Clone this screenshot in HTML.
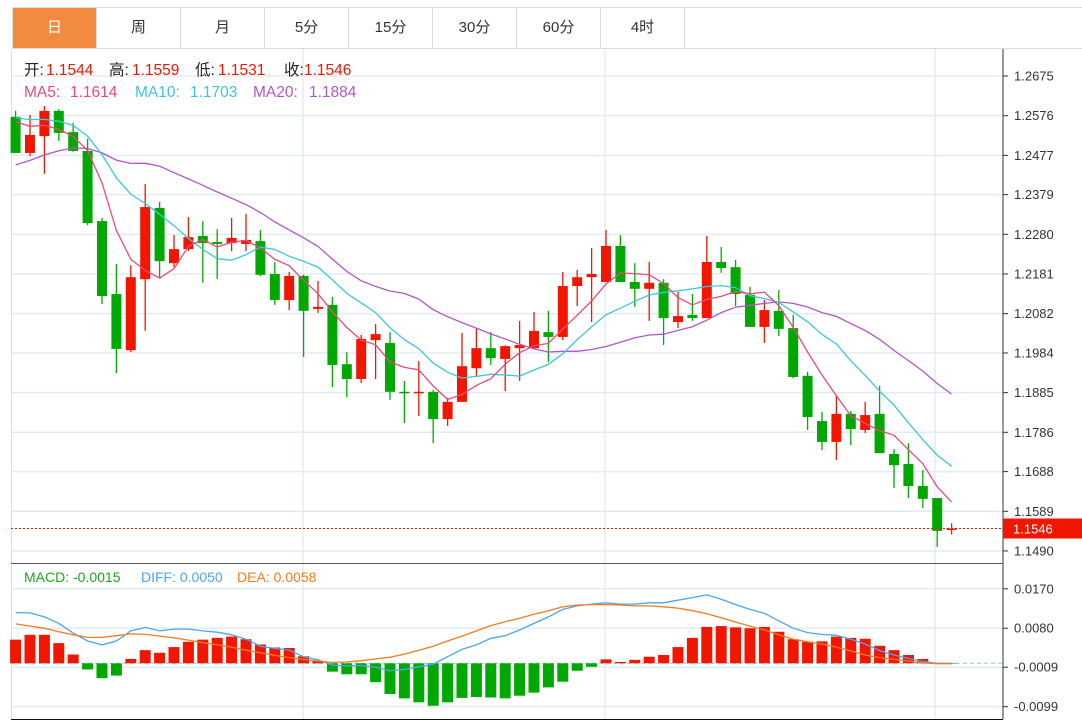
<!DOCTYPE html>
<html><head><meta charset="utf-8">
<style>
html,body{margin:0;padding:0;background:#fff;width:1082px;height:726px;overflow:hidden;font-family:"Liberation Sans","Noto Sans CJK SC",sans-serif}
.tabs{position:absolute;left:12px;top:7px;height:42px;width:1070px;border:1px solid #dcdcdc;border-right:none;display:flex;box-sizing:border-box}
.tab{width:84px;height:40px;line-height:40px;text-align:center;font-size:15px;color:#333;border-right:1px solid #dcdcdc;box-sizing:border-box}
.tab.on{background:#F28B40;color:#fff}
svg{position:absolute;left:0;top:0}
</style></head><body>
<div class="tabs">
<div class="tab on">日</div>
<div class="tab">周</div>
<div class="tab">月</div>
<div class="tab">5分</div>
<div class="tab">15分</div>
<div class="tab">30分</div>
<div class="tab">60分</div>
<div class="tab">4时</div>
</div>
<svg id="chart" width="1082" height="726"></svg>
<script>
const prevCloses=[1.2303,1.2316,1.2328,1.2341,1.2336,1.2346,1.2353,1.2341,1.2341,1.2353,1.2570,1.2585,1.2578,1.2590,1.2578,1.2585,1.2575,1.2583,1.2578];
const opens=[1.2573,1.2483,1.2525,1.2588,1.2535,1.2488,1.2313,1.2131,1.1991,1.2168,1.2346,1.2208,1.2243,1.2276,1.2261,1.2258,1.2256,1.2263,1.2181,1.2116,1.2176,1.2094,1.2104,1.1956,1.1919,1.2016,1.2009,1.1887,1.1884,1.1887,1.1819,1.1862,1.1946,1.1996,1.1969,1.1996,1.1996,1.2036,1.2024,1.2151,1.2173,1.2161,1.2251,1.2161,1.2144,1.2159,1.2061,1.2079,1.2071,1.2211,1.2198,1.2129,1.2049,1.2089,1.2046,1.1927,1.1814,1.1762,1.1832,1.1792,1.1832,1.1732,1.1707,1.1652,1.1622,1.1544];
const closes=[1.2483,1.2528,1.2588,1.2533,1.2488,1.2308,1.2126,1.1994,1.2173,1.2348,1.2213,1.2243,1.2273,1.2258,1.2256,1.2271,1.2266,1.2179,1.2116,1.2176,1.2089,1.2099,1.1954,1.1919,1.2019,1.2031,1.1887,1.1884,1.1887,1.1819,1.1862,1.1951,1.1996,1.1971,1.2001,1.2004,1.2039,1.2024,1.2151,1.2173,1.2181,1.2251,1.2161,1.2144,1.2159,1.2071,1.2076,1.2071,1.2211,1.2196,1.2131,1.2049,1.2091,1.2044,1.1924,1.1824,1.1762,1.1832,1.1794,1.1829,1.1734,1.1704,1.1652,1.1620,1.1540,1.1546];
const highs=[1.2588,1.2578,1.2600,1.2592,1.2558,1.2518,1.2321,1.2206,1.2203,1.2406,1.2361,1.2278,1.2323,1.2313,1.2293,1.2321,1.2331,1.2291,1.2211,1.2186,1.2179,1.2164,1.2124,1.1986,1.2029,1.2056,1.2036,1.1914,1.1964,1.1892,1.1872,1.2034,1.2046,1.2036,1.2003,1.2064,1.2086,1.2089,1.2186,1.2191,1.2246,1.2291,1.2278,1.2208,1.2211,1.2168,1.2136,1.2131,1.2276,1.2248,1.2216,1.2149,1.2116,1.2141,1.2079,1.1937,1.1837,1.1877,1.1839,1.1862,1.1902,1.1744,1.1759,1.1692,1.1622,1.1559];
const lows=[1.2483,1.2475,1.2431,1.2513,1.2486,1.2303,1.2106,1.1934,1.1986,1.2039,1.2173,1.2198,1.2238,1.2159,1.2168,1.2238,1.2238,1.2176,1.2104,1.2091,1.1974,1.2084,1.1899,1.1874,1.1909,1.1919,1.1867,1.1809,1.1827,1.1759,1.1802,1.1862,1.1927,1.1954,1.1889,1.1914,1.1994,1.1961,1.2016,1.2101,1.2061,1.2161,1.2161,1.2099,1.2064,1.2004,1.2046,1.2064,1.2071,1.2184,1.2101,1.2049,1.2009,1.2026,1.1921,1.1792,1.1742,1.1717,1.1754,1.1784,1.1734,1.1647,1.1622,1.1597,1.1500,1.1531];
const macdBars=[0.0054,0.0065,0.0065,0.0046,0.0020,-0.0014,-0.0034,-0.0028,0.0010,0.0030,0.0024,0.0037,0.0049,0.0054,0.0058,0.0061,0.0055,0.0043,0.0036,0.0035,0.0016,0.0006,-0.0019,-0.0025,-0.0025,-0.0043,-0.0070,-0.0080,-0.0089,-0.0097,-0.0089,-0.0079,-0.0077,-0.0078,-0.0080,-0.0074,-0.0067,-0.0055,-0.0042,-0.0017,-0.0008,0.0009,0.0003,0.0008,0.0015,0.0019,0.0037,0.0058,0.0083,0.0085,0.0082,0.0080,0.0083,0.0072,0.0055,0.0049,0.0050,0.0061,0.0058,0.0056,0.0040,0.0030,0.0019,0.0010,-0.0001,-0.0001];
const diffLine=[0.0116,0.0115,0.0106,0.0091,0.0069,0.0051,0.0042,0.0051,0.0074,0.0082,0.0074,0.0078,0.0078,0.0074,0.0071,0.0065,0.0055,0.0039,0.0034,0.0030,0.0015,0.0008,-0.0004,-0.0006,-0.0005,-0.0009,-0.0017,-0.0014,-0.0008,-0.0002,0.0015,0.0032,0.0042,0.0057,0.0063,0.0076,0.0091,0.0106,0.0123,0.0131,0.0135,0.0138,0.0135,0.0135,0.0138,0.0138,0.0144,0.0150,0.0156,0.0146,0.0134,0.0123,0.0114,0.0097,0.0080,0.0070,0.0066,0.0064,0.0055,0.0044,0.0029,0.0019,0.0011,0.0004,0.0000,0.0000];
const deaLine=[0.0090,0.0085,0.0080,0.0072,0.0065,0.0059,0.0059,0.0063,0.0067,0.0066,0.0062,0.0058,0.0053,0.0047,0.0042,0.0037,0.0030,0.0024,0.0018,0.0013,0.0009,0.0005,0.0002,0.0003,0.0006,0.0010,0.0014,0.0021,0.0030,0.0039,0.0051,0.0062,0.0074,0.0086,0.0095,0.0103,0.0112,0.0120,0.0129,0.0133,0.0134,0.0134,0.0133,0.0131,0.0131,0.0129,0.0126,0.0120,0.0113,0.0104,0.0094,0.0085,0.0076,0.0065,0.0055,0.0049,0.0044,0.0037,0.0028,0.0019,0.0013,0.0009,0.0005,0.0001,-0.0001,-0.0001];
const priceTicks=["1.2675","1.2576","1.2477","1.2379","1.2280","1.2181","1.2082","1.1984","1.1885","1.1786","1.1688","1.1589","1.1490"];
const macdTicks=["0.0170","0.0080","-0.0009","-0.0099"];
const lastPrice=1.1546;

const NS="http://www.w3.org/2000/svg";
const svg=document.getElementById('chart');
function el(tag,attrs,parent){const e=document.createElementNS(NS,tag);for(const k in attrs)e.setAttribute(k,attrs[k]);(parent||svg).appendChild(e);return e;}
const X0=15.6,DX=14.4;
function xAt(i){return X0+i*DX;}
function yP(p){return 76+(1.2675-p)*4008;}
function yM(v){return 663.3-v*4382;}
const RIGHT=1003;
priceTicks.forEach(t=>{const y=yP(parseFloat(t));
 const g=el('line',{x1:11,x2:RIGHT,y1:y,y2:y,stroke:'#e3ebf2','stroke-width':1.5});
 
 
 el('line',{x1:RIGHT,x2:RIGHT+5,y1:y,y2:y,stroke:'#333'});
 const tx=el('text',{x:1014,y:y+4.5,'font-size':13,fill:'#333'});tx.textContent=t;
 
 
});
macdTicks.forEach(t=>{const y=yM(parseFloat(t));
 const g=el('line',{x1:11,x2:RIGHT,y1:y,y2:y,stroke:'#e3ebf2','stroke-width':1.5});
 
 
 el('line',{x1:RIGHT,x2:RIGHT+5,y1:y,y2:y,stroke:'#333'});
 const tx=el('text',{x:1014,y:y+4.5,'font-size':13,fill:'#333'});tx.textContent=t;
 
 
});
[303,605,935].forEach(x=>{el('line',{x1:x,x2:x,y1:49,y2:719,stroke:'#e3ebf2','stroke-width':1.5});});
el('line',{x1:11.5,x2:11.5,y1:49,y2:719,stroke:'#d8dde2'});
el('line',{x1:RIGHT,x2:RIGHT,y1:49,y2:719,stroke:'#333'});
el('line',{x1:11,x2:RIGHT,y1:563.5,y2:563.5,stroke:'#555'});
el('line',{x1:11,x2:RIGHT,y1:719.5,y2:719.5,stroke:'#111'});
el('line',{x1:11,x2:RIGHT,y1:yM(0),y2:yM(0),stroke:'#9cc7e0','stroke-dasharray':'4,3'});
for(let i=0;i<opens.length;i++){
 const up=closes[i]>=opens[i];const c=up?'#f11600':'#02a802';const x=xAt(i);
 const w=el('line',{x1:x,x2:x,y1:yP(highs[i]),y2:yP(lows[i]),stroke:c,'stroke-width':1.3});
 
 
 const t=yP(Math.max(opens[i],closes[i])),b=yP(Math.min(opens[i],closes[i]));
 const r=el('rect',{x:x-5,y:t,width:10,height:Math.max(1.5,b-t),fill:c});
 
 
}
const all=prevCloses.concat(closes);
function ma(n){const out=[];for(let i=0;i<closes.length;i++){let s=0;const j=prevCloses.length+i;for(let k=j-n+1;k<=j;k++)s+=all[k];out.push(s/n);}return out;}
function poly(vals,fy,color,name){const pts=vals.map((v,i)=>xAt(i).toFixed(1)+','+fy(v).toFixed(1)).join(' ');
 const p=el('polyline',{points:pts,fill:'none',stroke:color,'stroke-width':1.3});
 
 }
poly(ma(20),yP,'#b256c6','ma20-line');
poly(ma(10),yP,'#3ac6dc','ma10-line');
poly(ma(5),yP,'#ea4a7c','ma5-line');
const ly=yP(lastPrice);
el('line',{x1:11,x2:RIGHT,y1:ly,y2:ly,stroke:'#f11600','stroke-dasharray':'2,2'});
const lb=el('rect',{x:RIGHT,y:ly-10,width:79,height:20,fill:'#f11600'});


const lt=el('text',{x:1013,y:ly+5,'font-size':13,fill:'#fff'});lt.textContent='1.1546';
for(let i=0;i<macdBars.length;i++){const v=macdBars[i];const x=xAt(i);const y0=yM(0),y1=yM(v);
 const r=el('rect',{x:x-5.5,y:Math.min(y0,y1),width:11,height:Math.max(0.5,Math.abs(y1-y0)),fill:v>=0?'#f11600':'#02a802'});
 
 }
poly(diffLine,yM,'#4aa6ee','diff-line');
poly(deaLine,yM,'#f77a1c','dea-line');
function txt(y,parts,size,name){const t=el('text',{y:y,'font-size':size});
 
 
 parts.forEach(p=>{const s=el('tspan',{fill:p[1],x:p[2]},t);s.textContent=p[0];});}
txt(75,[['开:','#222',24],['1.1544','#f11600',46],['高:','#222',109],['1.1559','#f11600',132],['低:','#222',195],['1.1531','#f11600',218],['收:','#222',284],['1.1546','#f11600',304]],15.5,'ohlc-legend');
txt(97,[['MA5:','#ea4a7c',24],['1.1614','#ea4a7c',70],['MA10:','#3ac6dc',135],['1.1703','#3ac6dc',190],['MA20:','#b256c6',253],['1.1884','#b256c6',309]],15.5,'ma-legend');
txt(582,[['MACD: -0.0015','#1fa51f',24],['DIFF: 0.0050','#4aa6ee',141],['DEA: 0.0058','#f77a1c',237]],14,'macd-legend');
</script>
</body></html>
